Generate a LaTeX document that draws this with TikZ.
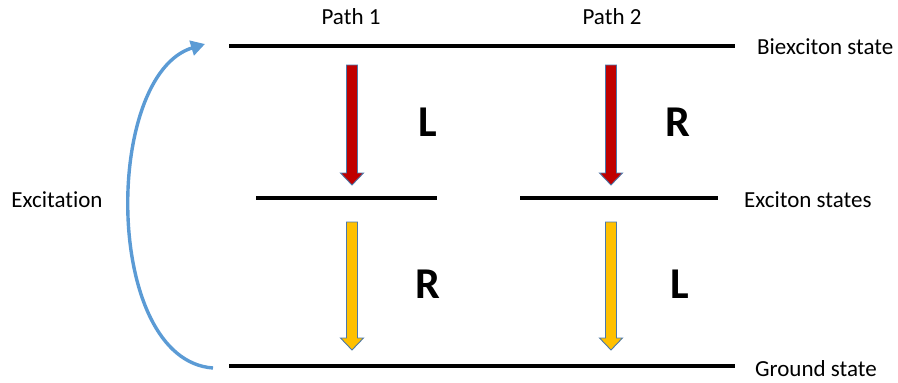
\documentclass[tikz,border=0pt]{standalone}
\usepackage{fontspec}
\setmainfont{Carlito}[Ligatures={NoCommon}]
\usetikzlibrary{arrows.meta}
\definecolor{arrowred}{RGB}{192,0,0}
\definecolor{arrowyellow}{RGB}{255,192,0}
\definecolor{arrowedge}{RGB}{75,120,170}
\definecolor{excite}{RGB}{91,155,213}
\tikzset{
  level/.style={line width=4.5pt},
  label/.style={font=\fontsize{23}{25}\selectfont, inner sep=0pt},
  pol/.style={font=\fontsize{44}{46}\selectfont\bfseries, inner sep=0pt},
  blockarrow/.style={draw=arrowedge, line width=0.9pt, line join=miter},
}
% block arrow pointing down: centre x, top y, tip y, fill colour
\newcommand\downblock[4]{%
  \path[blockarrow, fill=#4]
    (#1-5.5,#2) -- (#1+5.5,#2) -- (#1+5.5,#3-12) -- (#1+11.5,#3-12)
    -- (#1,#3) -- (#1-11.5,#3-12) -- (#1-5.5,#3-12) -- cycle;}
\begin{document}
\begin{tikzpicture}[x=1pt,y=-1pt]
\useasboundingbox (0,0) rectangle (898,383);

% energy levels
\coordinate (bxL) at (229,46);  \coordinate (bxR) at (735,46);
\coordinate (x1L) at (256,198); \coordinate (x1R) at (437,198);
\coordinate (x2L) at (520,198); \coordinate (x2R) at (718,198);
\coordinate (gL) at (229,366);  \coordinate (gR) at (735,366);
\draw[level] (bxL) -- (bxR);
\draw[level] (x1L) -- (x1R);
\draw[level] (x2L) -- (x2R);
\draw[level] (gL) -- (gR);

% level labels
\node[label, anchor=west] (bxlab) at (757,47) {Biexciton state};
\node[label, anchor=west] (xlab) at (744,200) {Exciton states};
\node[label, anchor=west] (glab) at (755,369) {Ground state};
\node[label] (p1) at (351,17) {Path 1};
\node[label] (p2) at (612,17) {Path 2};
\node[label] (exlab) at (57,200) {Excitation};

% decay arrows
\downblock{352}{65}{185}{arrowred}
\downblock{611}{65}{185}{arrowred}
\downblock{352}{222}{350}{arrowyellow}
\downblock{611}{222}{350}{arrowyellow}

% polarisation labels
\node[pol] (l1) at (428,122) {L};
\node[pol] (r1) at (678,122) {R};
\node[pol] (r2) at (428,284) {R};
\node[pol] (l2) at (680,284) {L};

% excitation arc
\coordinate (exS) at (213,368);
\coordinate (exE) at (205,44);
\draw[excite, line width=3.4pt, -{Triangle[length=14pt,width=15pt]}]
  (exS) .. controls (103,360) and (103,75) .. (exE);
\end{tikzpicture}
\end{document}
